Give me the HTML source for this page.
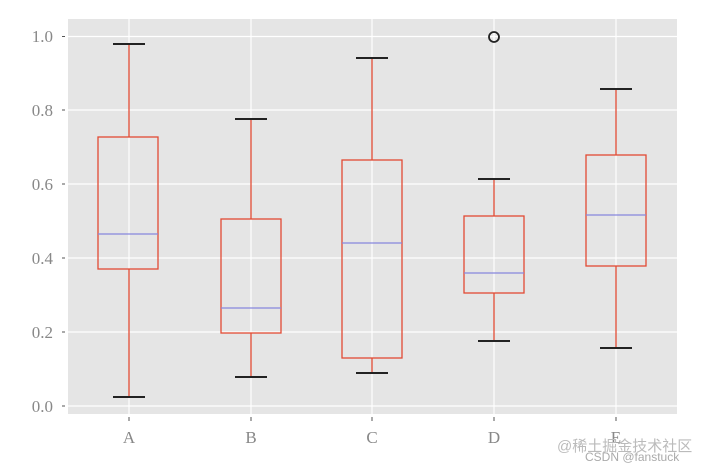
<!DOCTYPE html>
<html><head><meta charset="utf-8"><style>body{margin:0;background:#fff}</style></head><body>
<svg width="704" height="470" xmlns="http://www.w3.org/2000/svg" font-family="Liberation Serif, serif">
<rect x="68" y="19" width="609" height="395" fill="#e5e5e5"/>
<g stroke="#fff" stroke-width="1.2">
<line x1="68" x2="677" y1="406" y2="406"/><line x1="68" x2="677" y1="332" y2="332"/><line x1="68" x2="677" y1="258" y2="258"/><line x1="68" x2="677" y1="184" y2="184"/><line x1="68" x2="677" y1="110" y2="110"/><line x1="68" x2="677" y1="36.5" y2="36.5"/>
<line x1="129" x2="129" y1="19" y2="414"/><line x1="251" x2="251" y1="19" y2="414"/><line x1="372" x2="372" y1="19" y2="414"/><line x1="494" x2="494" y1="19" y2="414"/><line x1="616" x2="616" y1="19" y2="414"/>
</g>
<g stroke="#555" stroke-width="1">
<line x1="62" x2="65" y1="406" y2="406"/><line x1="62" x2="65" y1="332" y2="332"/><line x1="62" x2="65" y1="258" y2="258"/><line x1="62" x2="65" y1="184" y2="184"/><line x1="62" x2="65" y1="110" y2="110"/><line x1="62" x2="65" y1="36.5" y2="36.5"/>
<line x1="129" x2="129" y1="417" y2="421"/><line x1="251" x2="251" y1="417" y2="421"/><line x1="372" x2="372" y1="417" y2="421"/><line x1="494" x2="494" y1="417" y2="421"/><line x1="616" x2="616" y1="417" y2="421"/>
</g>
<g fill="#888" font-size="17" text-anchor="end">
<text x="53" y="412">0.0</text><text x="53" y="338">0.2</text><text x="53" y="264">0.4</text><text x="53" y="190">0.6</text><text x="53" y="116">0.8</text><text x="53" y="42">1.0</text>
</g>
<g fill="#888" font-size="17" text-anchor="middle">
<text x="129" y="443">A</text><text x="251" y="443">B</text><text x="372" y="443">C</text><text x="494" y="443">D</text><text x="616" y="443">E</text>
</g>
<g fill="none" stroke-width="1.3">
<rect x="98" y="137" width="60" height="132" stroke="#e24a33"/><line x1="129" x2="129" y1="44" y2="137" stroke="#e24a33"/><line x1="129" x2="129" y1="269" y2="397" stroke="#e24a33"/>
<line x1="98" x2="158" y1="234" y2="234" stroke="#8888dd"/><line x1="113" x2="145" y1="44" y2="44" stroke="#222" stroke-width="2"/><line x1="113" x2="145" y1="397" y2="397" stroke="#222" stroke-width="2"/>
<rect x="221" y="219" width="60" height="114" stroke="#e24a33"/><line x1="251" x2="251" y1="119" y2="219" stroke="#e24a33"/><line x1="251" x2="251" y1="333" y2="377" stroke="#e24a33"/>
<line x1="221" x2="281" y1="308" y2="308" stroke="#8888dd"/><line x1="235" x2="267" y1="119" y2="119" stroke="#222" stroke-width="2"/><line x1="235" x2="267" y1="377" y2="377" stroke="#222" stroke-width="2"/>
<rect x="342" y="160" width="60" height="198" stroke="#e24a33"/><line x1="372" x2="372" y1="58" y2="160" stroke="#e24a33"/><line x1="372" x2="372" y1="358" y2="373" stroke="#e24a33"/>
<line x1="342" x2="402" y1="243" y2="243" stroke="#8888dd"/><line x1="356" x2="388" y1="58" y2="58" stroke="#222" stroke-width="2"/><line x1="356" x2="388" y1="373" y2="373" stroke="#222" stroke-width="2"/>
<rect x="464" y="216" width="60" height="77" stroke="#e24a33"/><line x1="494" x2="494" y1="179" y2="216" stroke="#e24a33"/><line x1="494" x2="494" y1="293" y2="341" stroke="#e24a33"/>
<line x1="464" x2="524" y1="273" y2="273" stroke="#8888dd"/><line x1="478" x2="510" y1="179" y2="179" stroke="#222" stroke-width="2"/><line x1="478" x2="510" y1="341" y2="341" stroke="#222" stroke-width="2"/>
<circle cx="494" cy="37" r="5" stroke="#222" stroke-width="1.8"/>
<rect x="586" y="155" width="60" height="111" stroke="#e24a33"/><line x1="616" x2="616" y1="89" y2="155" stroke="#e24a33"/><line x1="616" x2="616" y1="266" y2="348" stroke="#e24a33"/>
<line x1="586" x2="646" y1="215" y2="215" stroke="#8888dd"/><line x1="600" x2="632" y1="89" y2="89" stroke="#222" stroke-width="2"/><line x1="600" x2="632" y1="348" y2="348" stroke="#222" stroke-width="2"/>
</g>
<text x="557" y="451" font-size="15" fill="#bbb" font-family="Liberation Sans, Noto Sans CJK SC, sans-serif">@稀土掘金技术社区</text>
<text x="585" y="461" font-size="12" fill="#aaa" font-family="Liberation Sans, sans-serif">CSDN @fanstuck</text>
</svg>
</body></html>
